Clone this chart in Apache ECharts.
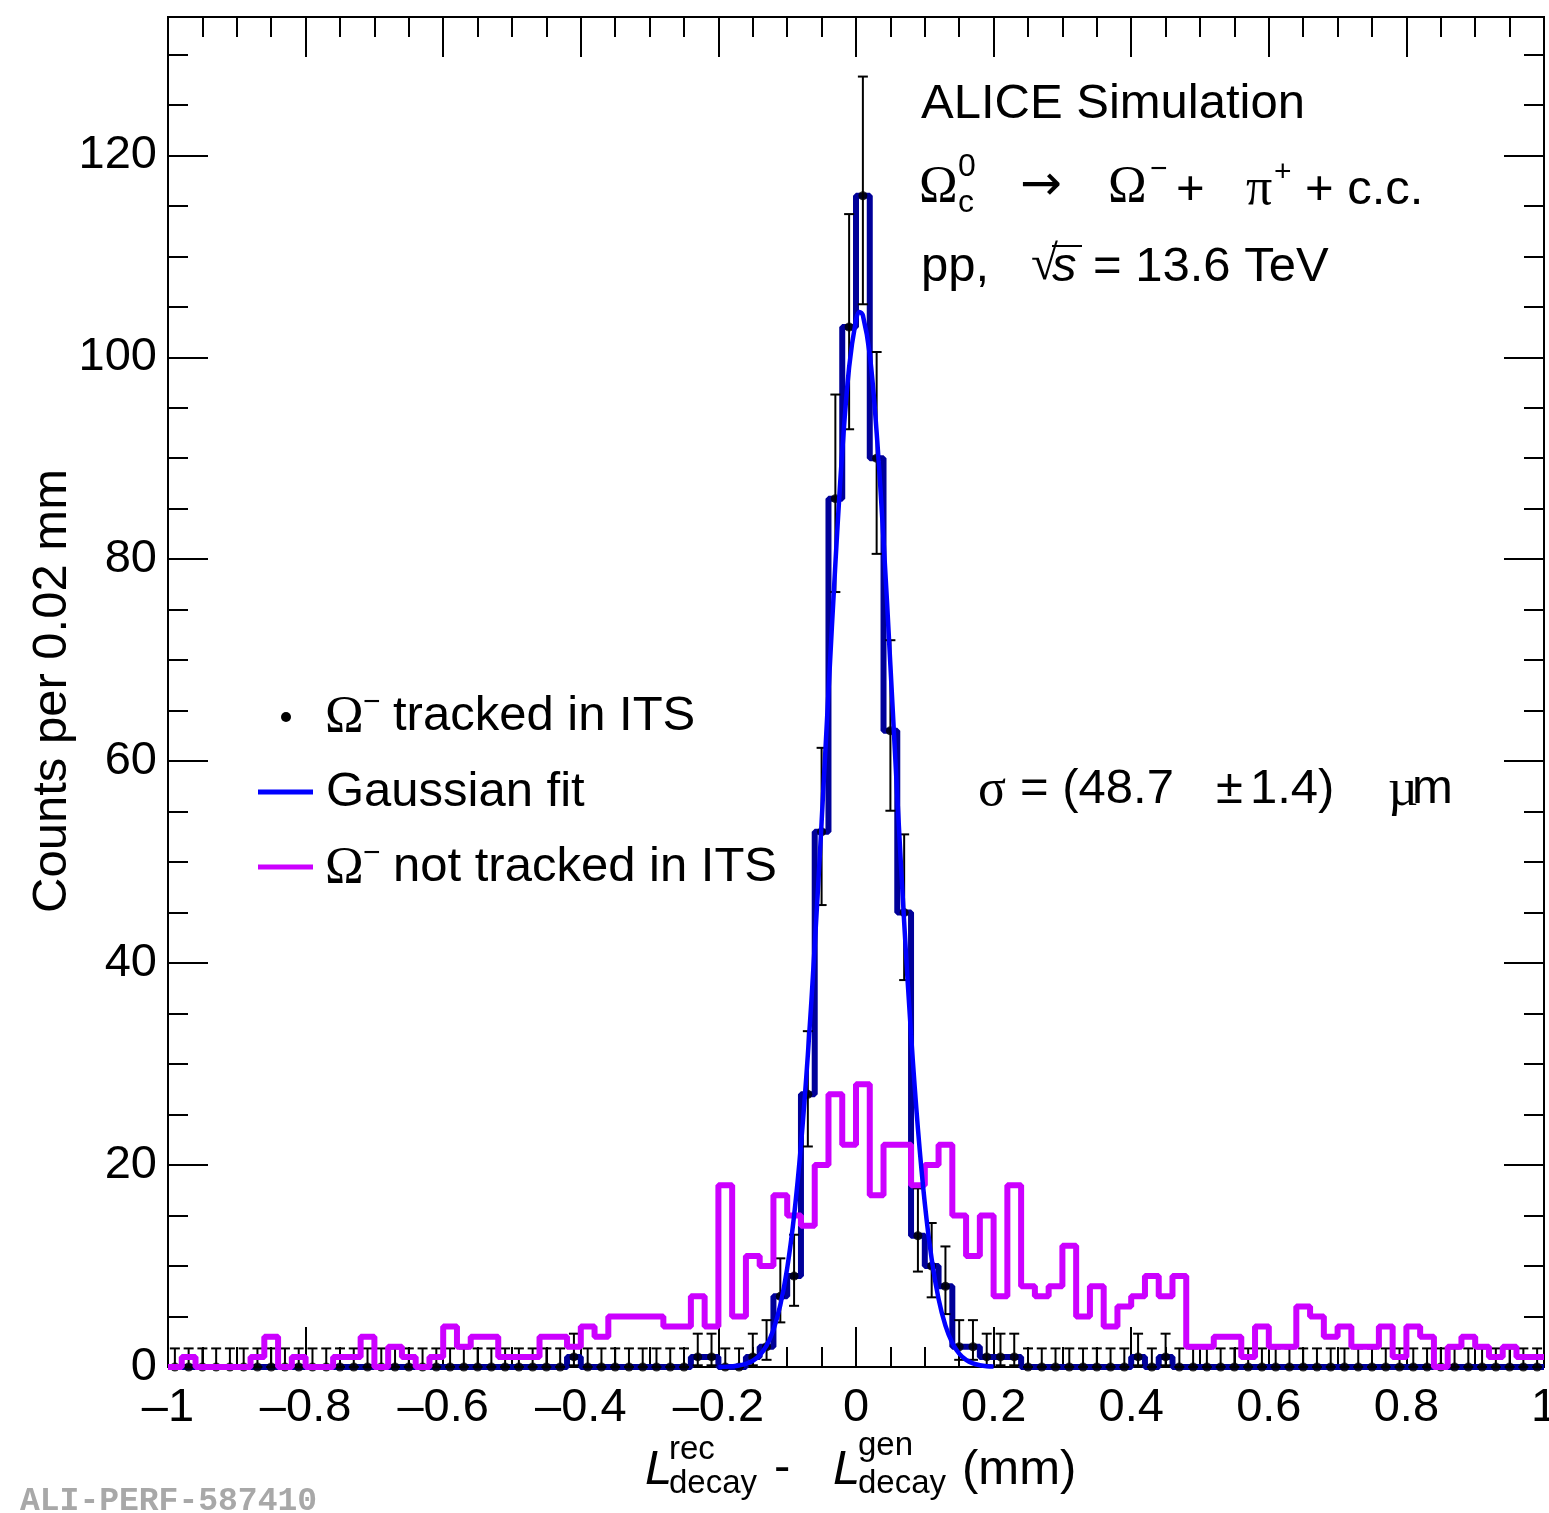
<!DOCTYPE html>
<html>
<head>
<meta charset="utf-8">
<script src="https://cdn.jsdelivr.net/npm/echarts@6/dist/echarts.min.js"></script>
<style>
html,body{margin:0;padding:0;background:#fff;}
#chart{width:1549px;height:1513px;}
</style>
</head>
<body>
<div id="chart"></div>
<script>
// ---------------- DATA ----------------
const BIN_LOW = -1;
const BIN_WIDTH = 0.02;
const Y_MAX = 133.7;

// Omega- tracked in ITS (counts per bin, 100 bins from -1 to 1 mm)
const tracked = [
  0,0,0,0,0,0,0,0,0,0,
  0,0,0,0,0,0,0,0,0,0,
  0,0,0,0,0,0,0,0,0,1,
  0,0,0,0,0,0,0,0,1,1,
  0,0,1,2,7,9,27,53,86,103,
  116,90,63,45,13,10,8,2,2,1,
  1,1,0,0,0,0,0,0,0,0,
  1,0,1,0,0,0,0,0,0,0,
  0,0,0,0,0,0,0,0,0,0,
  0,0,0,0,0,0,0,0,0,0
];

// lower / upper ends of the error bars on the tracked points
const trackedErrLow = [
  0,0,0,0,0,0,0,0,0,0,
  0,0,0,0,0,0,0,0,0,0,
  0,0,0,0,0,0,0,0,0,0.17,
  0,0,0,0,0,0,0,0,0.17,0.17,
  0,0,0.17,0.71,4.42,6.06,21.84,45.75,76.75,92.87,
  105.25,80.53,55.09,38.32,9.45,6.90,5.24,0.71,0.71,0.17,
  0.17,0.17,0,0,0,0,0,0,0,0,
  0.17,0,0.17,0,0,0,0,0,0,0,
  0,0,0,0,0,0,0,0,0,0,
  0,0,0,0,0,0,0,0,0,0
];
const trackedErrHigh = [
  1.84,1.84,1.84,1.84,1.84,1.84,1.84,1.84,1.84,1.84,
  1.84,1.84,1.84,1.84,1.84,1.84,1.84,1.84,1.84,1.84,
  1.84,1.84,1.84,1.84,1.84,1.84,1.84,1.84,1.84,3.30,
  1.84,1.84,1.84,1.84,1.84,1.84,1.84,1.84,3.30,3.30,
  1.84,1.84,3.30,4.64,10.76,13.10,33.26,61.32,96.31,114.18,
  127.80,100.52,71.98,52.75,17.69,14.26,11.94,4.64,4.64,3.30,
  3.30,3.30,1.84,1.84,1.84,1.84,1.84,1.84,1.84,1.84,
  3.30,1.84,3.30,1.84,1.84,1.84,1.84,1.84,1.84,1.84,
  1.84,1.84,1.84,1.84,1.84,1.84,1.84,1.84,1.84,1.84,
  1.84,1.84,1.84,1.84,1.84,1.84,1.84,1.84,1.84,1.84
];

// Omega- not tracked in ITS
const notTracked = [
  0,1,0,0,0,0,1,3,0,1,
  0,0,1,1,3,0,2,1,0,1,
  4,2,3,3,1,1,1,3,3,2,
  4,3,5,5,5,5,4,4,7,4,
  18,5,11,10,17,15,14,20,27,22,
  28,17,22,22,18,20,22,15,11,15,
  7,18,8,7,8,12,5,8,4,6,
  7,9,7,9,2,2,3,3,1,4,
  2,2,6,5,3,4,2,2,4,1,
  4,3,0,2,3,2,1,2,1,1
];

// Gaussian fit curve (sigma = 48.7 um), sampled points
const fitX = [-0.20,-0.19,-0.18,-0.17,-0.16,-0.15,-0.14,-0.13,-0.12,-0.11,
  -0.10,-0.09,-0.08,-0.07,-0.06,-0.05,-0.04,-0.03,-0.02,-0.01,
  0.00,0.005,0.01,0.02,0.03,0.04,0.05,0.06,0.07,0.08,0.09,
  0.10,0.11,0.12,0.13,0.14,0.15,0.16,0.17,0.18,0.19,0.20];
const fitY = [0.01,0.03,0.07,0.15,0.31,0.62,1.17,2.12,3.68,6.13,
  9.78,14.97,21.98,30.92,41.72,53.95,66.89,79.51,90.62,99.01,
  103.71,104.49,104.15,100.27,92.55,81.90,69.48,56.51,44.07,32.94,23.61,
  16.22,10.69,6.75,4.09,2.37,1.32,0.70,0.36,0.18,0.08,0.04];

// ---------------- derived series data ----------------
const binCenters = tracked.map((_, i) => +(BIN_LOW + (i + 0.5) * BIN_WIDTH).toFixed(4));
function stepData(vals) {
  const d = vals.map((v, i) => [+(BIN_LOW + i * BIN_WIDTH).toFixed(4), v]);
  d.push([+(BIN_LOW + vals.length * BIN_WIDTH).toFixed(4), vals[vals.length - 1]]);
  return d;
}

const SANS = '"Liberation Sans", Arial, Helvetica, sans-serif';
const SERIF = '"Liberation Serif", "Times New Roman", serif';
const MONO = '"Liberation Mono", "Courier New", monospace';
const DEJAVU = '"DejaVu Sans", sans-serif';

function T(text, x, y, size, opt) {
  opt = opt || {};
  const font = (opt.italic ? 'italic ' : '') + (opt.bold ? 'bold ' : '') + size + 'px ' + (opt.family || SANS);
  const el = {
    type: 'text', x: x, y: y, z: 100, silent: true,
    style: {
      text: text, fill: opt.color || '#000', font: font,
      align: opt.align || 'left', textAlign: opt.align || 'left',
      verticalAlign: 'middle', textVerticalAlign: 'middle'
    }
  };
  if (opt.rotation) el.rotation = opt.rotation;
  return el;
}
function L(x1, y1, x2, y2, color, w) {
  return { type: 'line', z: 100, silent: true, shape: { x1, y1, x2, y2 }, style: { stroke: color, lineWidth: w } };
}

const graphics = [
  // header text
  T('ALICE Simulation', 921, 104, 49),
  T('\u03A9', 919, 188, 52, { family: SERIF }),
  T('0', 958, 167, 32),
  T('c', 958, 203, 32),
  T('\u2192', 1020, 187, 50, { family: DEJAVU }),
  T('\u03A9', 1108, 188, 52, { family: SERIF }),
  T('\u2212', 1150, 170, 30),
  T('+', 1176, 190, 49),
  T('\u03C0', 1246, 190, 52, { family: SERIF }),
  T('+', 1274, 173, 30),
  T('+ c.c.', 1305, 190, 49),
  T('pp,', 921, 267, 49),
  T('\u221A', 1031, 266, 49, { family: SERIF }),
  L(1052, 246, 1082, 246, '#000', 2),
  T('s', 1052, 267, 49, { italic: true }),
  T('= 13.6 TeV', 1093, 267, 49),
  // sigma text
  T('\u03C3', 978, 791, 52, { family: SERIF }),
  T('= (48.7', 1020, 789, 49),
  T('\u00B1', 1216, 789, 49),
  T('1.4)', 1250, 789, 49),
  T('\u00B5', 1388, 791, 52, { family: SERIF }),
  T('m', 1412, 789, 49),
  // legend
  { type: 'circle', z: 100, silent: true, shape: { cx: 286, cy: 717, r: 5 }, style: { fill: '#000' } },
  T('\u03A9', 325, 718, 52, { family: SERIF }),
  T('\u2212', 363, 703, 30),
  T('tracked in ITS', 393, 716, 49),
  L(258, 792, 313, 792, '#0000ff', 5),
  T('Gaussian fit', 326, 792, 49),
  L(258, 867, 313, 867, '#cc00ff', 5),
  T('\u03A9', 325, 869, 52, { family: SERIF }),
  T('\u2212', 363, 854, 30),
  T('not tracked in ITS', 393, 867, 49),
  // x axis title
  T('L', 645, 1470, 49, { italic: true }),
  T('rec', 669, 1450, 33),
  T('decay', 669, 1484, 33),
  T('-', 774, 1468, 49),
  T('L', 833, 1470, 49, { italic: true }),
  T('gen', 858, 1446, 33),
  T('decay', 858, 1484, 33),
  T('(mm)', 962, 1470, 49),
  // y axis title
  T('Counts per 0.02 mm', 52, 691, 49, { align: 'center', rotation: Math.PI / 2 }),
  // watermark
  T('ALI-PERF-587410', 20, 1502, 33, { family: MONO, bold: true, color: '#a8a8a8' })
];

const black2 = { color: '#000', width: 2 };
function xAx(pos, labels) {
  return {
    type: 'value', min: -1, max: 1, interval: 0.2, position: pos,
    axisLine: { show: true, onZero: false, lineStyle: black2 },
    axisTick: { show: true, inside: true, length: 40, lineStyle: black2 },
    minorTick: { show: true, splitNumber: 4, length: 20, lineStyle: black2 },
    splitLine: { show: false }, minorSplitLine: { show: false },
    axisLabel: labels ? {
      show: true, fontSize: 47, fontFamily: SANS, color: '#000', margin: 18,
      formatter: v => { const r = Math.round(v * 10) / 10; return r < 0 ? '\u2013' + Math.abs(r) : String(r); }
    } : { show: false }
  };
}
function yAx(pos, interval, len, labels) {
  return {
    type: 'value', min: 0, max: Y_MAX, interval: interval, position: pos, offset: 0,
    axisLine: { show: true, onZero: false, lineStyle: black2 },
    axisTick: { show: true, inside: true, length: len, lineStyle: black2 },
    splitLine: { show: false },
    axisLabel: labels ? {
      show: true, fontSize: 47, fontFamily: SANS, color: '#000', margin: 11,
      formatter: v => (Math.abs(v % 20) < 1e-6 ? String(Math.round(v)) : '')
    } : { show: false }
  };
}

const chart = echarts.init(document.getElementById('chart'), null, { renderer: 'canvas' });
chart.setOption({
  animation: false,
  backgroundColor: '#fff',
  grid: { left: 168, top: 17, width: 1376, height: 1350, show: true, borderColor: '#000', borderWidth: 2, containLabel: false, outerBoundsMode: 'none' },
  xAxis: [xAx('bottom', true), xAx('top', false)],
  yAxis: [yAx('left', 20, 40, true), yAx('left', 5, 20, false), yAx('right', 20, 40, false), yAx('right', 5, 20, false)],
  graphic: graphics,
  series: [
    {
      name: 'tracked hist', type: 'line', step: 'end', data: stepData(tracked),
      symbol: 'none', lineStyle: { color: '#000099', width: 6 }, z: 2, silent: true
    },
    {
      name: 'errors', type: 'custom', z: 3, silent: true, clip: false,
      data: binCenters.map((c, i) => [c, trackedErrLow[i], trackedErrHigh[i]]),
      encode: { x: 0, y: [1, 2] },
      renderItem: function (params, api) {
        const x = api.value(0), lo = api.value(1), hi = api.value(2);
        const pH = api.coord([x, hi]), pL = api.coord([x, lo]);
        const cap = 5, st = { stroke: '#000', lineWidth: 2 };
        return {
          type: 'group', children: [
            { type: 'line', shape: { x1: pH[0], y1: pH[1], x2: pL[0], y2: pL[1] }, style: st },
            { type: 'line', shape: { x1: pH[0] - cap, y1: pH[1], x2: pH[0] + cap, y2: pH[1] }, style: st },
            { type: 'line', shape: { x1: pL[0] - cap, y1: pL[1], x2: pL[0] + cap, y2: pL[1] }, style: st }
          ]
        };
      }
    },
    {
      name: 'tracked points', type: 'scatter', data: binCenters.map((c, i) => [c, tracked[i]]),
      symbol: 'circle', symbolSize: 9, itemStyle: { color: '#000' }, z: 3, clip: false, silent: true
    },
    {
      name: 'not tracked', type: 'line', step: 'end', data: stepData(notTracked),
      symbol: 'none', lineStyle: { color: '#cc00ff', width: 6 }, z: 4, silent: true
    },
    {
      name: 'Gaussian fit', type: 'line', data: fitX.map((x, i) => [x, fitY[i]]),
      smooth: 0.4, symbol: 'none', lineStyle: { color: '#0000ff', width: 4.5 }, z: 5, silent: true
    }
  ]
});
</script>
</body>
</html>
